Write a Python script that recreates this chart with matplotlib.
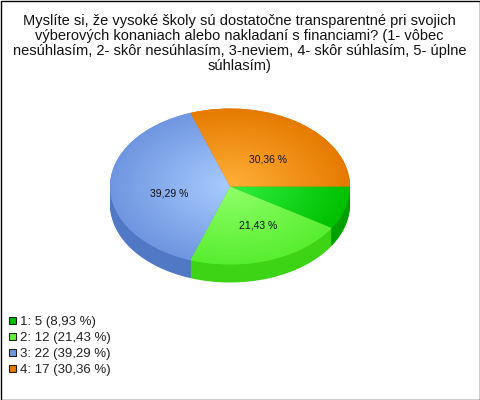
import numpy as np
import matplotlib
matplotlib.use("Agg")
import matplotlib.pyplot as plt
from matplotlib.colors import LinearSegmentedColormap
from matplotlib.patches import Rectangle

plt.rcParams["font.family"] = ["Liberation Sans", "DejaVu Sans"]

TITLE = ("Myslíte si, že vysoké školy sú dostatočne transparentné pri svojich\n"
         "výberových konaniach alebo nakladaní s financiami? (1- vôbec\n"
         "nesúhlasím, 2- skôr nesúhlasím, 3-neviem, 4- skôr súhlasím, 5- úplne\n"
         "súhlasím)")
categories = ["1", "2", "3", "4"]
counts = [5, 12, 22, 17]
percents = ["8,93", "21,43", "39,29", "30,36"]

legend_colors = ["#00c000", "#66f23c", "#6f96e0", "#e67a00"]
inner_colors = ["#30f040", "#90ff68", "#a8ccff", "#ffb038"]
outer_colors = ["#00c000", "#58ee30", "#6f96e0", "#e67a00"]
side_colors = ["#00a000", "#3cd414", "#5078c4", "#c06000"]

# pie geometry, pixels
CX, CY = 230, 186.5
RX, RY = 120, 78
DEPTH = 18
W, H = 480, 400

fig = plt.figure(figsize=(W / 100, H / 100), dpi=100, facecolor="white")
ax = fig.add_axes([0, 0, 1, 1])

# side of the pie: same pie stacked downwards
for d in np.arange(DEPTH, 0, -1.0):
    ax.pie(counts, startangle=0, counterclock=False, colors=side_colors,
           center=(0, -d / RY), radius=1.0, frame=False)

# top face: one radial gradient per slice, clipped by its wedge
wedges, _ = ax.pie(counts, startangle=0, counterclock=False, colors=outer_colors,
                   center=(0, 0), radius=1.0, frame=False)
yy, xx = np.mgrid[-1:1:400j, -1:1:400j]
rr = np.clip(np.hypot(xx, yy), 0, 1)
for w, c0, c1 in zip(wedges, inner_colors, outer_colors):
    cmap = LinearSegmentedColormap.from_list("s", [c0, c1])
    im = ax.imshow(rr, extent=(-1, 1, -1, 1), cmap=cmap, vmin=0, vmax=1,
                   origin="lower", aspect="auto", zorder=3)
    im.set_clip_path(w)

ax.set_aspect("auto")
ax.set_xlim(-CX / RX, (W - CX) / RX)
ax.set_ylim((CY - H) / RY, CY / RY)
ax.axis("off")

# overlay in pixel coordinates for text, legend and border
ov = fig.add_axes([0, 0, 1, 1], facecolor="none")
ov.set_xlim(0, W)
ov.set_ylim(H, 0)
ov.axis("off")

ov.text(239.5, 43.5, TITLE, ha="center", va="center", fontsize=10.5,
        color="#111111", linespacing=1.08)

label_pos = [None, (258, 225), (169, 194), (268, 159)]
for pct, pos in zip(percents, label_pos):
    if pos is not None:
        ov.text(pos[0], pos[1], f"{pct} %", ha="center", va="center",
                fontsize=7.5, color="#111111")

for i, (cat, n, pct, col) in enumerate(zip(categories, counts, percents, legend_colors)):
    y = 320.5 + i * 16
    ov.add_patch(Rectangle((8.5, y - 3.5), 7, 7, facecolor=col, edgecolor="#222222", lw=0.8))
    ov.text(20, y + 1.5, f"{cat}: {n} ({pct} %)", ha="left", va="center",
            fontsize=9.5, color="#222222")

ov.add_patch(Rectangle((0.5, 0.5), W - 1, H - 1, fill=False, edgecolor="black", lw=1.0))

fig.savefig("out.png", dpi=100)
